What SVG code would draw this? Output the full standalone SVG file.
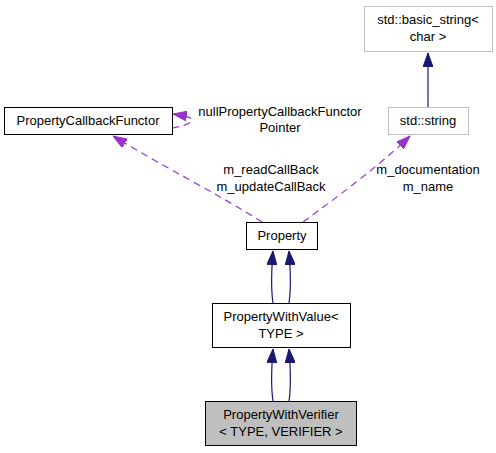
<svg xmlns="http://www.w3.org/2000/svg" width="496" height="453" viewBox="0 0 496 453">
<style>
text{font-family:"Liberation Sans",Arial,sans-serif;font-size:13px;fill:#000;text-anchor:middle}
.n{fill:#fff;stroke:#000;stroke-width:1}
.g{fill:#fff;stroke:#bfbfbf;stroke-width:1}
.inh{fill:none;stroke:#191970;stroke-width:1.2}
.use{fill:none;stroke:#9a32cd;stroke-width:1.2;stroke-dasharray:7,5}
</style>
<defs>
<marker id="ab" markerWidth="14" markerHeight="10" refX="14" refY="5" viewBox="0 0 14 10" orient="auto" markerUnits="userSpaceOnUse">
<path d="M0,0 L14,5 L0,10 Z" fill="#191970" stroke="#191970"/>
</marker>
<marker id="am" markerWidth="14" markerHeight="10" refX="14" refY="5" viewBox="0 0 14 10" orient="auto" markerUnits="userSpaceOnUse">
<path d="M0,0 L14,5 L0,10 Z" fill="#9a32cd" stroke="#9a32cd"/>
</marker>
</defs>
<rect width="496" height="453" fill="#fff"/>
<g id="connectors">
<path class="inh" d="M273,303 C271,290 271,276 273,251" marker-end="url(#ab)"/>
<path class="inh" d="M289,303 C291,290 291,276 289,251" marker-end="url(#ab)"/>
<path class="inh" d="M273,401 C271,388 271,374 273,349" marker-end="url(#ab)"/>
<path class="inh" d="M289,401 C291,388 291,374 289,349" marker-end="url(#ab)"/>
<path class="inh" d="M428,107 L428,53" marker-end="url(#ab)"/>
<path class="use" d="M262,222 C220,195 160,165 113,136" marker-end="url(#am)"/>
<path class="use" d="M303,222 C340,195 380,165 410,136" marker-end="url(#am)"/>
<path class="use" d="M172,128 C190,125 197,120 188,117 C184,116 180,115 173,114" marker-end="url(#am)"/>
<text x="271" y="174">m_readCallBack</text>
<text x="271" y="191">m_updateCallBack</text>
<text x="428" y="174">m_documentation</text>
<text x="428" y="191">m_name</text>
<text x="280" y="116">nullPropertyCallbackFunctor</text>
<text x="280" y="132">Pointer</text>
</g>
<g id="PropertyWithVerifier">
<rect x="205.5" y="401.5" width="151" height="44" fill="#bfbfbf" stroke="#000"/>
<text x="281" y="419">PropertyWithVerifier</text>
<text x="281" y="436">&lt; TYPE, VERIFIER &gt;</text>
</g>
<g id="PropertyWithValue">
<rect class="n" x="212.5" y="303.5" width="138" height="44"/>
<text x="281" y="321">PropertyWithValue&lt;</text>
<text x="281" y="338">TYPE &gt;</text>
</g>
<g id="Property">
<rect class="n" x="246.5" y="222.5" width="71" height="27"/>
<text x="282" y="240">Property</text>
</g>
<g id="PropertyCallbackFunctor">
<rect class="n" x="4.5" y="107.5" width="168" height="27"/>
<text x="88" y="125">PropertyCallbackFunctor</text>
</g>
<g id="std_string">
<rect class="g" x="388.5" y="107.5" width="80" height="27"/>
<text x="428" y="125">std::string</text>
</g>
<g id="std_basic_string">
<rect class="g" x="364.5" y="6.5" width="128" height="45"/>
<text x="428" y="24">std::basic_string&lt;</text>
<text x="428" y="41">char &gt;</text>
</g>
</svg>
